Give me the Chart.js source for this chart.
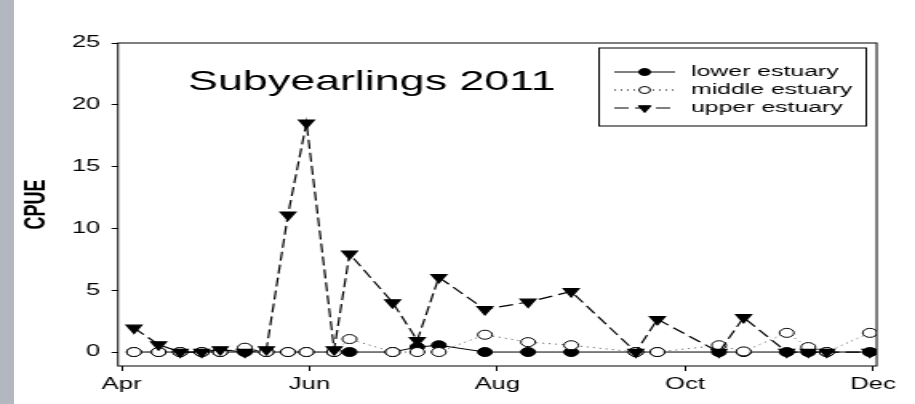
<!DOCTYPE html>
<html>
<head>
<meta charset="utf-8">
<script src="https://cdn.jsdelivr.net/npm/chart.js@4/dist/chart.umd.min.js"></script>
<style>
  body { margin: 0; background: #fff; }
  #faixa { position: absolute; left: 0; top: 0; width: 14px; height: 404px; background: #b3b8c0; }
  #grafico { position: absolute; left: 0; top: 0; }
</style>
</head>
<body>
<div id="faixa"></div>
<canvas id="grafico" width="572" height="404" style="width:915px;height:404px"></canvas>
<script>
// ===================== DATA =====================

const chartTitle = "Subyearlings 2011";
const yLabel = "CPUE";

const sampleDates = [
  "2011-04-05", "2011-04-13", "2011-04-20", "2011-04-27", "2011-05-03",
  "2011-05-11", "2011-05-18", "2011-05-25", "2011-05-31", "2011-06-09",
  "2011-06-14", "2011-06-28", "2011-07-06", "2011-07-13", "2011-07-28",
  "2011-08-11", "2011-08-25", "2011-09-15", "2011-09-22", "2011-10-12",
  "2011-10-20", "2011-11-03", "2011-11-10", "2011-11-16", "2011-11-30",
];

const lowerEstuary = [0, 0, 0, 0, 0, 0, 0, 0, 0, 0, 0, 0, 0.4, 0.55, 0, 0, 0, 0, 0, 0, 0, 0, 0, 0, 0];
const middleEstuary = [0, 0, 0, 0, 0, 0.35, 0, 0, 0, 0, 1.05, 0, 0, 0, 1.4, 0.8, 0.55, 0, 0, 0.55, 0.05, 1.55, 0.4, 0, 1.55];
const upperEstuary = [1.95, 0.6, 0, 0, 0.2, 0, 0.2, 11.1, 18.55, 0.2, 7.95, 4.0, 0.95, 6.05, 3.45, 4.05, 4.9, 0, 2.65, 0, 2.8, 0, 0, 0, 0];

const seriesNames = ["lower estuary", "middle estuary", "upper estuary"];

const tickDates = ["2011-04-01", "2011-06-01", "2011-08-01", "2011-10-01", "2011-12-01"];
const tickLabels = ["Apr", "Jun", "Aug", "Oct", "Dec"];
const yTicks = [0, 5, 10, 15, 20, 25];

// ===================== HELPERS =====================

// the picture is stretched sideways: the canvas is 572 wide, shown at 915
const ORIGIN = Date.UTC(2011, 3, 1);
function toDay(s) {
  const [y, m, d] = s.split("-").map(Number);
  return (Date.UTC(y, m - 1, d) - ORIGIN) / 864e5;
}

const days = sampleDates.map(toDay);
const tickDays = tickDates.map(toDay);
const pts = (vals) => vals.map((v, i) => ({ x: days[i], y: v }));

const FONT = '"Liberation Sans", Arial, sans-serif';

// ===================== CHART =====================

const extras = {
  id: "extras",
  afterDraw(chart) {
    const { ctx, chartArea: a } = chart;
    ctx.save();
    ctx.strokeStyle = "#000";
    ctx.lineWidth = 1;
    ctx.strokeRect(a.left, a.top, a.right - a.left, a.bottom - a.top);

    ctx.fillStyle = "#000";
    ctx.font = "28px " + FONT;
    ctx.textAlign = "center";
    ctx.textBaseline = "middle";
    ctx.fillText(chartTitle, 232.5, 82);

    // legend box
    ctx.strokeRect(374.5, 48, 167, 78);
    const rows = [72, 90, 108];
    chart.data.datasets.forEach((ds, i) => {
      const y = rows[i];
      ctx.save();
      ctx.strokeStyle = "#000";
      ctx.lineWidth = 1;
      ctx.setLineDash(ds.borderDash || []);
      ctx.beginPath();
      ctx.moveTo(384, y);
      ctx.lineTo(422, y);
      ctx.stroke();
      ctx.setLineDash([]);
      ctx.fillStyle = ds.pointBackgroundColor;
      Chart.helpers.drawPoint(ctx, {
        pointStyle: ds.pointStyle,
        rotation: ds.pointRotation || 0,
        radius: ds.pointRadius - 1,
        borderWidth: 1,
      }, 403, y);
      ctx.restore();
      ctx.fillStyle = "#000";
      ctx.font = "15.5px " + FONT;
      ctx.textAlign = "left";
      ctx.fillText(ds.label, 432, y);
    });
    ctx.restore();
  },
};

new Chart(document.getElementById("grafico"), {
  type: "line",
  data: {
    datasets: [
      {
        label: seriesNames[0],
        data: pts(lowerEstuary),
        borderColor: "#000",
        borderWidth: 1,
        pointStyle: "circle",
        pointRadius: 4.5,
        pointBackgroundColor: "#000",
        pointBorderColor: "#000",
        order: 3,
      },
      {
        label: seriesNames[1],
        data: pts(middleEstuary),
        borderColor: "#555",
        borderWidth: 1,
        borderDash: [1, 3],
        pointStyle: "circle",
        pointRadius: 4.5,
        pointBackgroundColor: "#fff",
        pointBorderColor: "#000",
        order: 2,
      },
      {
        label: seriesNames[2],
        data: pts(upperEstuary),
        borderColor: "#000",
        borderWidth: 1.2,
        borderDash: [9, 4],
        pointStyle: "triangle",
        pointRotation: 180,
        pointRadius: 5.5,
        pointBackgroundColor: "#000",
        pointBorderColor: "#000",
        order: 1,
      },
    ],
  },
  options: {
    responsive: false,
    animation: false,
    devicePixelRatio: 1,
    layout: { padding: { left: 0, right: 24, top: 43, bottom: 0 } },
    plugins: { legend: { display: false }, tooltip: { enabled: false } },
    elements: { line: { tension: 0 }, point: { borderWidth: 1 } },
    scales: {
      x: {
        type: "linear",
        min: -1.2,
        max: 245.2,
        afterBuildTicks: (s) => { s.ticks = tickDays.map((v) => ({ value: v })); },
        afterFit: (s) => { s.height = 38; },
        ticks: {
          autoSkip: false,
          maxRotation: 0,
          color: "#000",
          padding: 4,
          font: { family: FONT, size: 16 },
          callback: (v, i) => tickLabels[i],
        },
        grid: { drawOnChartArea: false, tickLength: 5, color: "#000" },
        border: { display: false },
      },
      y: {
        min: -1.13,
        max: 25,
        afterBuildTicks: (s) => { s.ticks = yTicks.map((v) => ({ value: v })); },
        afterFit: (s) => { s.width = 73.75; },
        ticks: { color: "#000", padding: 7, font: { family: FONT, size: 16 } },
        grid: { drawOnChartArea: false, tickLength: 4, color: "#000" },
        border: { display: false },
        title: {
          display: true,
          text: yLabel,
          color: "#000",
          padding: { top: 12 },
          font: { family: FONT, size: 18, weight: "bold" },
        },
      },
    },
  },
  plugins: [extras],
});
</script>
</body>
</html>
